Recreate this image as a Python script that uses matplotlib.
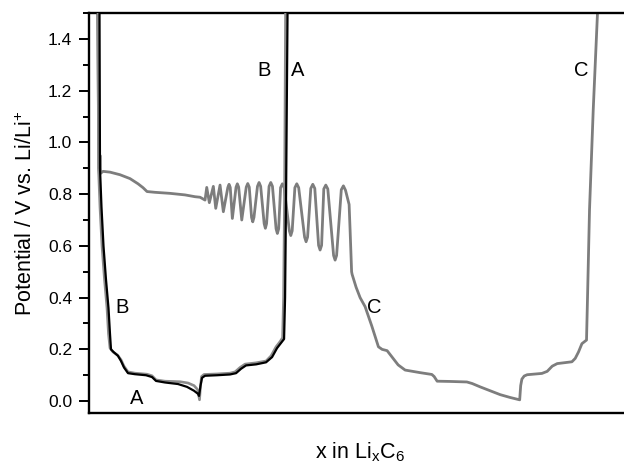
import numpy as np
import matplotlib
matplotlib.use("Agg")
import matplotlib.pyplot as plt
from matplotlib.ticker import MultipleLocator, FormatStrFormatter

plt.rcParams['font.family'] = ['Liberation Sans', 'DejaVu Sans']

# ---- curve A (black): discharge then charge ----
xA = [0.105, 0.11, 0.125, 0.145, 0.17, 0.195, 0.21, 0.22, 0.245, 0.29, 0.32, 0.35,
      0.39, 0.46, 0.57, 0.63, 0.67, 0.76, 0.89, 0.98, 1.05, 1.09,
      1.10, 1.115, 1.13, 1.16, 1.28, 1.41, 1.47, 1.52, 1.57, 1.67, 1.77, 1.83,
      1.88, 1.92, 1.95, 1.96, 1.97, 1.985]
vA = [1.52, 0.90, 0.75, 0.60, 0.47, 0.36, 0.26, 0.20, 0.19, 0.175, 0.155, 0.13,
      0.108, 0.104, 0.10, 0.093, 0.078, 0.072, 0.066, 0.055, 0.04, 0.028,
      0.02, 0.06, 0.09, 0.098, 0.10, 0.103, 0.108, 0.125, 0.138, 0.142, 0.15, 0.17,
      0.205, 0.225, 0.24, 0.40, 0.80, 1.52]

# ---- curve B (grey): discharge then charge ----
xB = [0.09, 0.095, 0.11, 0.13, 0.155, 0.18, 0.195, 0.21, 0.24, 0.285, 0.32, 0.35,
      0.39, 0.46, 0.58, 0.63, 0.67, 0.76, 0.91, 0.99, 1.05, 1.085, 1.105,
      1.115, 1.125, 1.15, 1.28, 1.41, 1.46, 1.51, 1.56, 1.67, 1.77, 1.82,
      1.87, 1.91, 1.935, 1.945, 1.955, 1.965]
vB = [1.52, 0.90, 0.75, 0.60, 0.47, 0.36, 0.26, 0.205, 0.19, 0.178, 0.16, 0.135,
      0.113, 0.108, 0.104, 0.098, 0.082, 0.077, 0.075, 0.07, 0.06, 0.045, 0.005,
      0.06, 0.095, 0.103, 0.105, 0.108, 0.113, 0.13, 0.143, 0.148, 0.155, 0.175,
      0.21, 0.23, 0.245, 0.40, 0.80, 1.52]

# ---- curve C (grey) ----
# first plateau before the oscillations start
xC_start = [0.085, 0.10, 0.105, 0.11, 0.115, 0.14, 0.21, 0.31, 0.41, 0.49, 0.54, 0.58,
            0.66, 0.81, 0.96, 1.06, 1.11]
vC_start = [1.52, 0.90, 0.87, 0.95, 0.88, 0.888, 0.885, 0.875, 0.86, 0.84, 0.825, 0.81,
            0.807, 0.803, 0.797, 0.79, 0.788]
# oscillating region
xC_osc = [1.16, 1.177, 1.203, 1.243, 1.267, 1.31, 1.343,
          1.388, 1.40, 1.412, 1.433,
          1.47, 1.483, 1.496, 1.527,
          1.572, 1.587, 1.602, 1.625, 1.637, 1.649,
          1.684, 1.70, 1.716, 1.751, 1.763, 1.775,
          1.80, 1.817, 1.834, 1.87, 1.883, 1.896,
          1.915, 1.933, 1.951, 2.003, 2.017, 2.031,
          2.058, 2.077, 2.096, 2.155, 2.17, 2.185,
          2.217, 2.237, 2.257, 2.295, 2.31, 2.325,
          2.347, 2.367, 2.387, 2.445, 2.46, 2.475,
          2.522, 2.543, 2.564]
vC_osc = [0.777, 0.826, 0.767, 0.83, 0.745, 0.835, 0.732,
          0.826, 0.838, 0.826, 0.706,
          0.827, 0.84, 0.827, 0.70,
          0.827, 0.841, 0.827, 0.71, 0.693, 0.71,
          0.83, 0.845, 0.83, 0.686, 0.668, 0.686,
          0.83, 0.845, 0.83, 0.666, 0.648, 0.666,
          0.825, 0.84, 0.825, 0.658, 0.64, 0.658,
          0.825, 0.84, 0.825, 0.634, 0.616, 0.634,
          0.822, 0.838, 0.822, 0.602, 0.584, 0.602,
          0.82, 0.835, 0.82, 0.563, 0.545, 0.563,
          0.817, 0.832, 0.815]
# drop, low-voltage plateaus and charge
xC_end = [2.60, 2.61, 2.625, 2.63, 2.67, 2.71, 2.76, 2.827, 2.893, 2.93, 2.98, 3.03,
          3.09, 3.16, 3.31, 3.427, 3.45, 3.48, 3.61, 3.777, 3.83, 3.91, 4.01, 4.11,
          4.21, 4.305, 4.315, 4.327, 4.35, 4.38, 4.527, 4.58, 4.63, 4.68, 4.827, 4.86,
          4.893, 4.927, 4.973, 4.983, 5.003, 5.04, 5.085]
vC_end = [0.76, 0.66, 0.50, 0.49, 0.44, 0.40, 0.365, 0.29, 0.21, 0.20, 0.195, 0.17,
          0.14, 0.12, 0.11, 0.103, 0.095, 0.077, 0.076, 0.074, 0.068, 0.055, 0.04, 0.025,
          0.014, 0.005, 0.06, 0.085, 0.097, 0.102, 0.107, 0.115, 0.135, 0.145, 0.152, 0.165,
          0.19, 0.222, 0.236, 0.40, 0.74, 1.125, 1.52]

xC = xC_start + xC_osc + xC_end
vC = vC_start + vC_osc + vC_end

# curve labels: (text, x, potential)
labels = [("B", 1.75, 1.276), ("A", 2.09, 1.276), ("C", 4.92, 1.276),
          ("B", 0.33, 0.362), ("A", 0.48, 0.011), ("C", 2.85, 0.36)]

fig = plt.figure(figsize=(6.24, 4.65), dpi=100)
ax = fig.add_axes([0.1426, 0.1118, 0.869, 0.8602])

ax.plot(xC, vC, color='#7d7d7d', lw=2.0, solid_joinstyle='round', zorder=2)
ax.plot(xB, vB, color='#8c8c8c', lw=1.9, solid_joinstyle='round', zorder=3)
ax.plot(xA, vA, color='black', lw=1.6, solid_joinstyle='round', zorder=4)

for txt, x, v in labels:
    ax.text(x, v, txt, fontsize=14.5, ha='center', va='center')

ax.set_xlim(0, 5.42)
ax.set_ylim(-0.046, 1.5)

ax.yaxis.set_major_locator(MultipleLocator(0.2))
ax.yaxis.set_minor_locator(MultipleLocator(0.1))
ax.yaxis.set_major_formatter(FormatStrFormatter('%.1f'))
ax.tick_params(axis='y', which='major', direction='out', length=7, width=1.4,
               labelsize=12.5, pad=5)
ax.tick_params(axis='y', which='minor', direction='out', length=4, width=1.4)
ax.set_xticks([])

for sp in ax.spines.values():
    sp.set_linewidth(1.7)

ax.set_xlabel('x in Li$_\\mathregular{x}$C$_\\mathregular{6}$', fontsize=15.5, labelpad=20)
ax.set_ylabel('Potential / V vs. Li/Li$^\\mathregular{+}$', fontsize=15.5, labelpad=8)

fig.savefig('out.png', dpi=100)
